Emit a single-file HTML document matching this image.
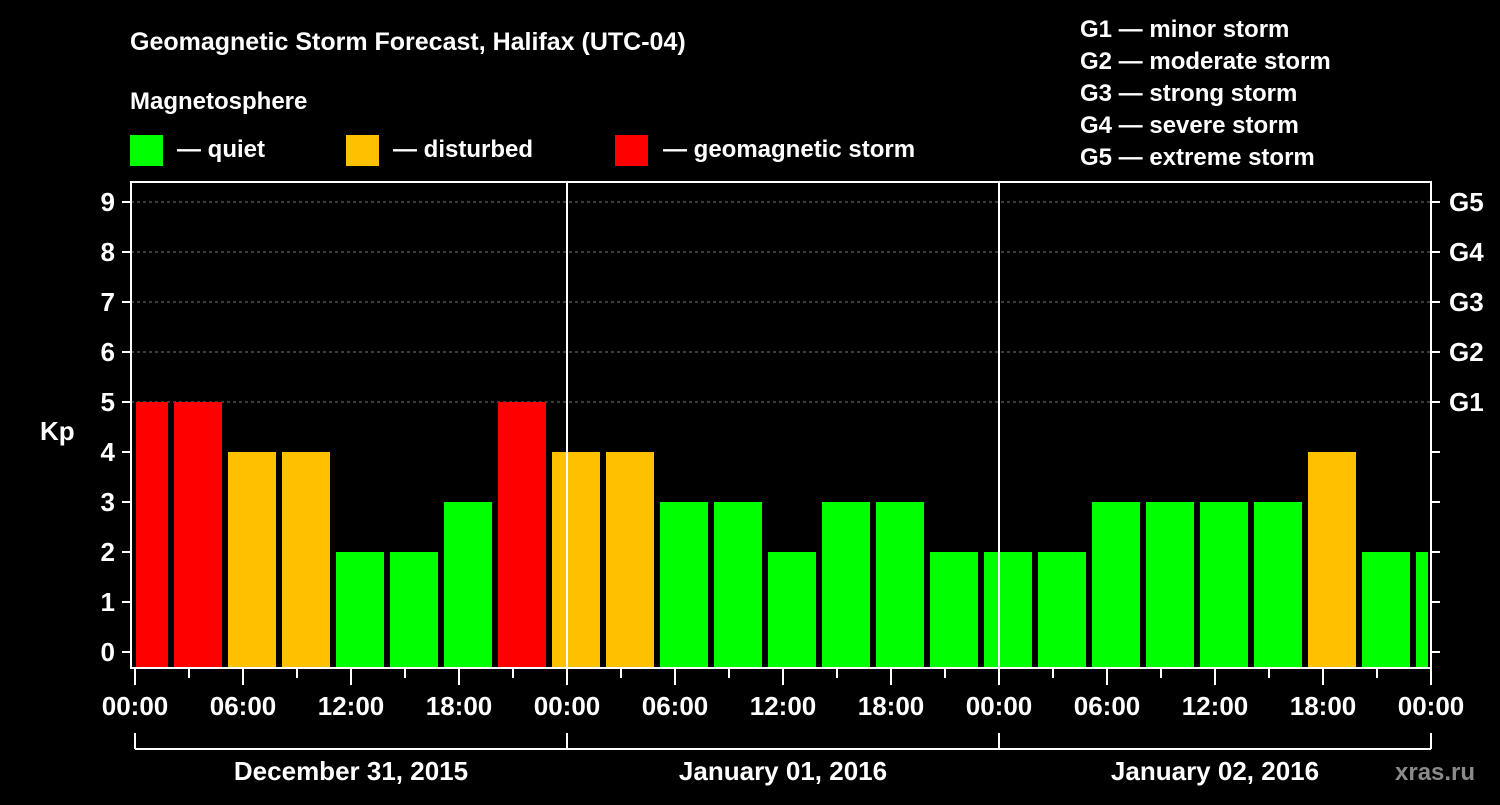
<!DOCTYPE html>
<html><head><meta charset="utf-8"><style>
body{margin:0;background:#000;width:1500px;height:800px;overflow:hidden}
svg text{font-family:"Liberation Sans",Arial,sans-serif;font-weight:bold;fill:#fff}
</style></head><body>
<svg id="c" width="1500" height="800">
<text x="130" y="50" font-size="25">Geomagnetic Storm Forecast, Halifax (UTC-04)</text>
<text x="130" y="109" font-size="24">Magnetosphere</text>
<g><rect x="130" y="135" width="33" height="31" fill="#00ff00"/><text x="177" y="157" font-size="24">— quiet</text></g>
<g><rect x="346" y="135" width="33" height="31" fill="#ffc000"/><text x="393" y="157" font-size="24">— disturbed</text></g>
<g><rect x="615" y="135" width="33" height="31" fill="#ff0000"/><text x="663" y="157" font-size="24">— geomagnetic storm</text></g>
<g font-size="24">
<text x="1080" y="37">G1 — minor storm</text>
<text x="1080" y="69">G2 — moderate storm</text>
<text x="1080" y="101">G3 — strong storm</text>
<text x="1080" y="133">G4 — severe storm</text>
<text x="1080" y="165">G5 — extreme storm</text></g>
<text x="40" y="440" font-size="26">Kp</text>
<text x="1395" y="780" font-size="24" fill="#888" style="fill:#8a8a8a">xras.ru</text>
<g id="g"></g>
</svg>
<script>
const kpValues=[5,5,4,4,2,2,3,5,4,4,3,3,2,3,3,2,2,2,3,3,3,3,4,2,2];
const binStartHours=[-1,2,5,8,11,14,17,20,23,26,29,32,35,38,41,44,47,50,53,56,59,62,65,68,71];
const dayLabels=["December 31, 2015","January 01, 2016","January 02, 2016"];
const timeLabels=["00:00","06:00","12:00","18:00"];
const gLabels=["G1","G2","G3","G4","G5"];
const NS="http://www.w3.org/2000/svg";
const g=document.getElementById('g');
const X=h=>135+h*18, Y=k=>652-k*50;
const L=131,R=1431,T=182,B=668;
function mk(t,a,txt){const e=document.createElementNS(NS,t);for(const k in a)e.setAttribute(k,a[k]);if(txt!==undefined)e.textContent=txt;g.appendChild(e);return e;}
const col=k=>k>=5?"#ff0000":k>=4?"#ffc000":"#00ff00";
for(let k=5;k<=9;k++){const e=mk('line',{x1:L,x2:R,y1:Y(k),y2:Y(k),stroke:'#777','stroke-dasharray':'3,3'});
}
kpValues.forEach((v,i)=>{const s=binStartHours[i];let x0=X(s)+3,x1=X(s+3)-3;x0=Math.max(x0,136);x1=Math.min(x1,1428);
const e=mk('rect',{x:x0,y:Y(v),width:x1-x0,height:B-1-Y(v),fill:col(v)});
});
for(let d=1;d<3;d++){const e=mk('line',{x1:X(24*d),x2:X(24*d),y1:T,y2:B,stroke:'#fff','stroke-width':2});
}
const f=mk('rect',{x:L,y:T,width:R-L,height:B-T,fill:'none',stroke:'#fff','stroke-width':2});

for(let k=0;k<=9;k++){mk('line',{x1:122,x2:L,y1:Y(k),y2:Y(k),stroke:'#fff','stroke-width':2});
mk('line',{x1:R,x2:R+9,y1:Y(k),y2:Y(k),stroke:'#fff','stroke-width':2});
const t=mk('text',{x:115,y:Y(k)+9,'font-size':26,'text-anchor':'end'},String(k));

if(k>=5){const t2=mk('text',{x:1449,y:Y(k)+9,'font-size':26},gLabels[k-5]);
}}
for(let h=0;h<=72;h+=3){const maj=h%6==0;mk('line',{x1:X(h),x2:X(h),y1:B,y2:B+(maj?17:10),stroke:'#fff','stroke-width':2});
if(maj){const t=mk('text',{x:X(h),y:715,'font-size':26,'text-anchor':'middle'},h==72?"00:00":timeLabels[(h%24)/6]);
}}
mk('line',{x1:X(0),x2:X(72),y1:749,y2:749,stroke:'#fff','stroke-width':2});
for(let d=0;d<=3;d++)mk('line',{x1:X(24*d),x2:X(24*d),y1:733,y2:749,stroke:'#fff','stroke-width':2});
dayLabels.forEach((s,i)=>{const t=mk('text',{x:X(24*i+12),y:780,'font-size':26,'text-anchor':'middle'},s);
});
</script></body></html>
